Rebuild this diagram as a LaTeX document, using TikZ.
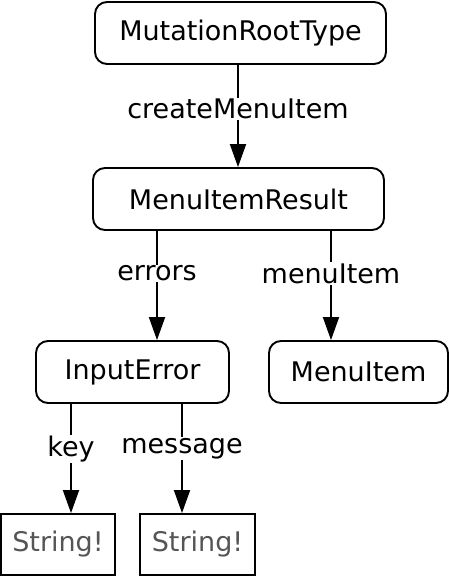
\documentclass[tikz,border=0pt]{standalone}
\usepackage{fontspec}
\setmainfont{DejaVu Sans}
\usetikzlibrary{arrows.meta}
\definecolor{stringgray}{HTML}{555555}
\tikzset{
  x=1pt, y=-1pt,
  typebox/.style={draw, line width=1.9pt, rounded corners=12pt, minimum height=62pt, inner sep=0pt, font=\fontsize{27}{31}\selectfont},
  scalarbox/.style={draw, line width=1.9pt, minimum height=61pt, inner sep=0pt, text=stringgray, font=\fontsize{27}{31}\selectfont},
  conn/.style={line width=1.9pt, -{Triangle[length=23pt,width=16pt]}},
  elabel/.style={fill=white, inner sep=1pt, font=\fontsize{27}{31}\selectfont}
}
\begin{document}
\begin{tikzpicture}
\useasboundingbox (0,0) rectangle (450,576);
\node[typebox, minimum width=291pt] (mrt) at (240.5,33) {MutationRootType};
\node[typebox, minimum width=291pt] (mir) at (238.5,199) {MenuItemResult};
\node[typebox, minimum width=193pt] (ie) at (132.5,372) {InputError};
\node[typebox, minimum width=179pt] (mi) at (358.5,372) {MenuItem};
\node[scalarbox, minimum width=114pt] (s1) at (58,544.5) {String!};
\node[scalarbox, minimum width=115pt] (s2) at (197.5,544.5) {String!};

\draw[conn] (mrt.south -| 238,0) -- node[elabel, pos=0.43] {createMenuItem} (mir.north -| 238,0);
\draw[conn] (mir.south -| 157,0) -- node[elabel, pos=0.39] {errors} (ie.north -| 157,0);
\draw[conn] (mir.south -| 331,0) -- node[elabel, pos=0.39] {menuItem} (mi.north -| 331,0);
\draw[conn] (ie.south -| 71,0) -- node[elabel, pos=0.41] {key} (s1.north -| 71,0);
\draw[conn] (ie.south -| 182,0) -- node[elabel, pos=0.41] {message} (s2.north -| 182,0);
\end{tikzpicture}
\end{document}
